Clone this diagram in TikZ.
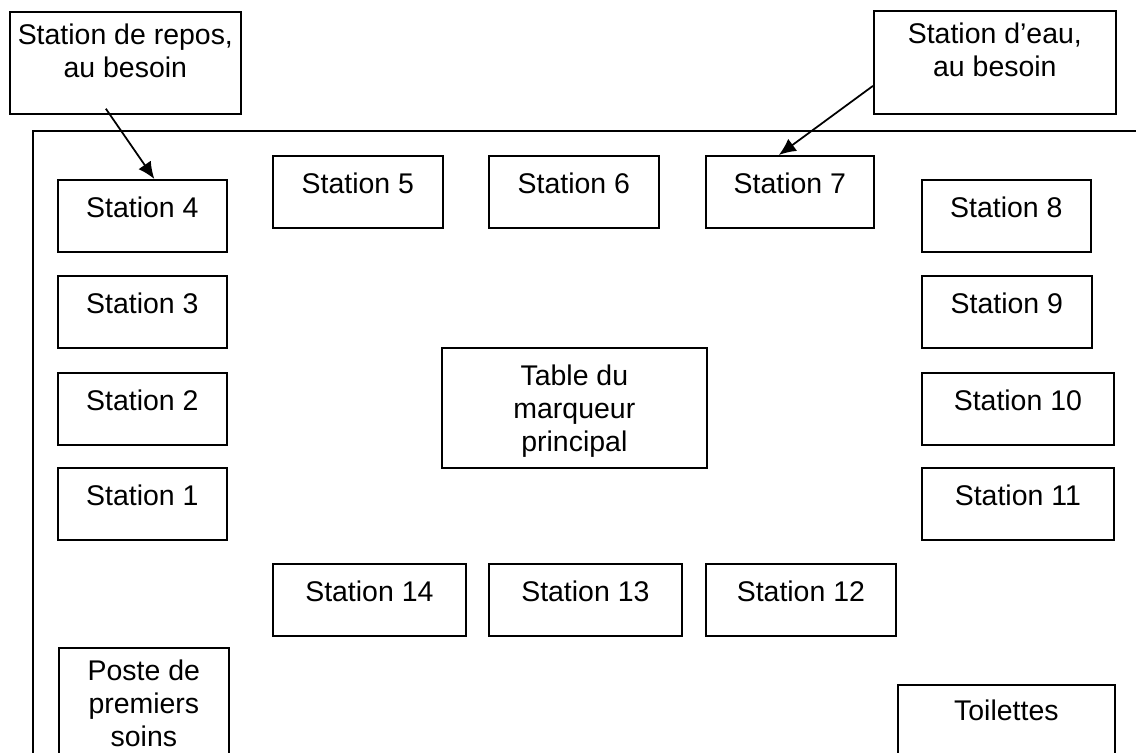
\documentclass[tikz,border=0pt]{standalone}
\usepackage{fontspec}
\setmainfont{Liberation Sans}
\usepackage{tikz}
\usetikzlibrary{arrows.meta}
\newcommand{\pile}[1]{\begin{tabular}[t]{@{}c@{}}#1\end{tabular}}
\tikzstyle{station} = [rectangle, draw=black, line width=1pt, inner sep=0pt, anchor=north west, minimum width=3.38cm, text height=0.76cm, text depth=0.68cm, font=\fontsize{16.2}{18.7}\selectfont]
\tikzstyle{bulle} = [station, text height=0.66cm, text depth=1.38cm]
\tikzstyle{fleche} = [line width=1pt, -{Latex[length=0.34cm,width=0.3cm]}]

\begin{document}
\begin{tikzpicture}[x=0.02cm, y=-0.02cm]
\useasboundingbox (0,0) rectangle (1136,753);
\clip (0,0) rectangle (1136,753);

% contour du terrain
\draw[line width=1.1pt] (33,770) |- (1150,131);

% stations de gauche
\node[station] (s4) at (57,179) {Station 4};
\node[station] (s3) at (57,275) {Station 3};
\node[station] (s2) at (57,372) {Station 2};
\node[station] (s1) at (57,467) {Station 1};

% stations du haut
\node[station, minimum width=3.4cm] (s5) at (272,155) {Station 5};
\node[station, minimum width=3.4cm] (s6) at (488,155) {Station 6};
\node[station, minimum width=3.36cm] (s7) at (705,155) {Station 7};

% stations de droite
\node[station] (s8) at (921,179) {Station 8};
\node[station, minimum width=3.4cm] (s9) at (921,275) {Station 9};
\node[station, minimum width=3.84cm] (s10) at (921,372) {Station 10};
\node[station, minimum width=3.84cm] (s11) at (921,467) {Station 11};

% stations du bas
\node[station, minimum width=3.86cm] (s14) at (272,563) {Station 14};
\node[station, minimum width=3.86cm] (s13) at (488,563) {Station 13};
\node[station, minimum width=3.8cm] (s12) at (705,563) {Station 12};

% centre
\node[station, minimum width=5.3cm, text depth=1.64cm] (table) at (441,347) {\pile{Table du\\marqueur\\principal}};

% services
\node[station, minimum width=3.4cm, text height=0.66cm, text depth=2cm] (soins) at (58,647) {\pile{Poste de\\premiers\\soins}};
\node[station, minimum width=4.34cm, text height=0.72cm, text depth=2cm] (toilettes) at (897,684) {Toilettes};

% bulles
\node[bulle, minimum width=4.62cm] (repos) at (9,11) {\pile{Station de repos,\\au besoin}};
\node[bulle, minimum width=4.84cm, text depth=1.4cm] (eau) at (873,10) {\pile{Station d'eau,\\au besoin}};

\draw[fleche] ([xshift=-0.39cm, yshift=0.12cm]repos.south) -- ([xshift=0.24cm]s4.north);
\draw[fleche] ([yshift=-0.47cm]eau.west) -- ([xshift=-0.22cm]s7.north);
\end{tikzpicture}
\end{document}
